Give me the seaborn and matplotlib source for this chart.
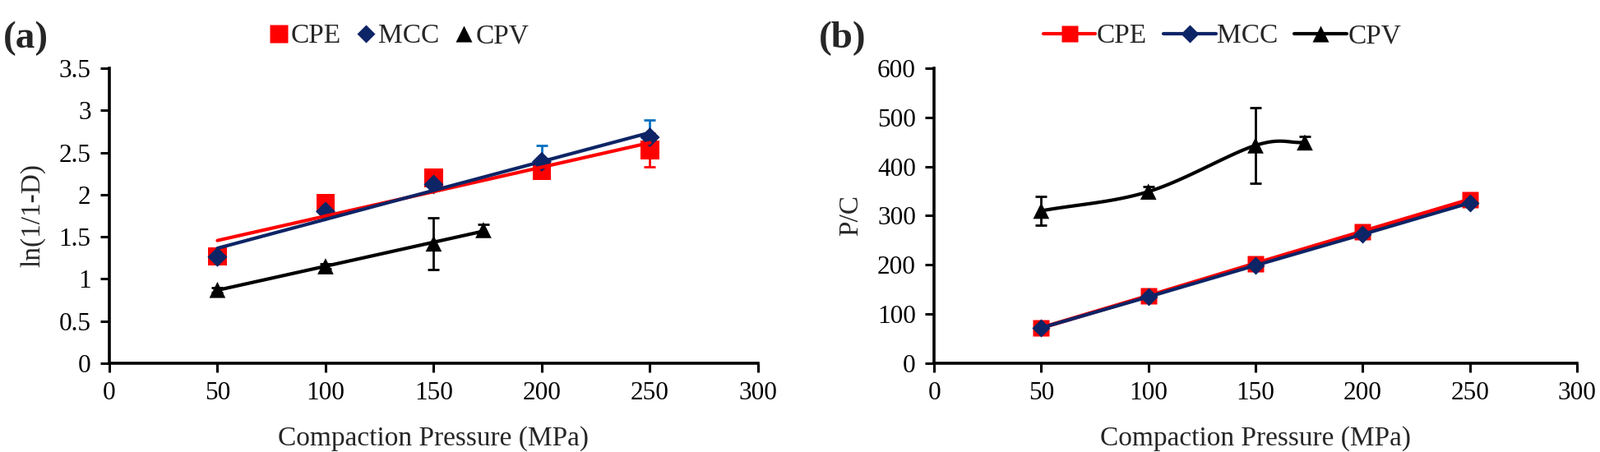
import numpy as np
import pandas as pd
import matplotlib
matplotlib.use("Agg")
import matplotlib.pyplot as plt
from matplotlib.lines import Line2D
import seaborn as sns

sns.set_theme(style="white")
plt.rcParams['font.family'] = ['Liberation Serif', 'DejaVu Serif']

# data
pressure = [50, 100, 150, 200, 250]
pressure_cpv = [50, 100, 150, 173]

# (a) Heckel plot ln(1/1-D)
heckel_cpe = [1.27, 1.90, 2.20, 2.28, 2.53]
heckel_cpe_err = [0.02, 0.03, 0.03, 0.05, 0.20]
heckel_mcc = [1.26, 1.80, 2.12, 2.39, 2.68]
heckel_mcc_err = [0.02, 0.02, 0.02, 0.19, 0.21]
heckel_cpv = [0.87, 1.15, 1.42, 1.58]
heckel_cpv_err = [0.03, 0.03, 0.31, 0.07]

# (b) Kawakita plot P/C
pc_cpe = [72, 137, 203, 268, 333]
pc_mcc = [72, 135, 199, 262, 326]
pc_cpv = [310, 349, 443, 449]
pc_cpv_err = [30, 11, 77, 13]

RED = "#FF0000"
NAVY = "#0D2466"
ERRBLUE = "#0070C0"
BLACK = "#000000"

TICK_FS = 22.5
LABEL_FS = 24


def smooth(x, y, n=40):
    # catmull-rom curve through the points, like Excel's "smoothed line"
    x = np.asarray(x, float)
    y = np.asarray(y, float)
    px = np.r_[2 * x[0] - x[1], x, 2 * x[-1] - x[-2]]
    py = np.r_[2 * y[0] - y[1], y, 2 * y[-1] - y[-2]]
    xs, ys = [], []
    t = np.linspace(0, 1, n)
    for i in range(1, len(px) - 2):
        for p, out in ((px, xs), (py, ys)):
            p0, p1, p2, p3 = p[i - 1], p[i], p[i + 1], p[i + 2]
            out.extend(0.5 * (2 * p1 + (-p0 + p2) * t
                              + (2 * p0 - 5 * p1 + 4 * p2 - p3) * t ** 2
                              + (-p0 + 3 * p1 - 3 * p2 + p3) * t ** 3))
    return xs, ys


def style_axes(ax, ymax, ystep, ylabel):
    ax.set_xlim(0, 300)
    ax.set_ylim(0, ymax)
    ax.set_xticks(np.arange(0, 301, 50))
    ax.set_yticks(np.arange(0, ymax + ystep / 2, ystep))
    ax.set_yticklabels([f"{v:g}" for v in np.arange(0, ymax + ystep / 2, ystep)])
    for s in ["top", "right"]:
        ax.spines[s].set_visible(False)
    for s in ["left", "bottom"]:
        ax.spines[s].set_linewidth(2.6)
        ax.spines[s].set_color("black")
    ax.tick_params(direction="out", length=8, width=2.2, colors="black",
                   labelsize=TICK_FS, pad=8, left=True, bottom=True)
    ax.set_xlabel("Compaction Pressure (MPa)", fontsize=LABEL_FS, labelpad=18)
    ax.set_ylabel(ylabel, fontsize=LABEL_FS, labelpad=12)
    ax.grid(False)


fig = plt.figure(figsize=(19.46, 5.5), dpi=100)
ax1 = fig.add_axes([0.0683, 0.1964, 0.4055, 0.6527])
ax2 = fig.add_axes([0.5838, 0.1964, 0.4018, 0.6527])

# ---- panel (a)
dfa = pd.DataFrame({"P": pressure, "CPE": heckel_cpe, "MCC": heckel_mcc})
dfv = pd.DataFrame({"P": pressure_cpv, "CPV": heckel_cpv})

ax1.errorbar(pressure, heckel_cpe, yerr=heckel_cpe_err, fmt="none",
             ecolor=RED, elinewidth=2, capsize=5, capthick=2, zorder=2)
ax1.errorbar(pressure, heckel_mcc, yerr=heckel_mcc_err, fmt="none",
             ecolor=ERRBLUE, elinewidth=2, capsize=5, capthick=2, zorder=2)
ax1.errorbar(pressure_cpv, heckel_cpv, yerr=heckel_cpv_err, fmt="none",
             ecolor=BLACK, elinewidth=2, capsize=5, capthick=2, zorder=2)

sns.scatterplot(data=dfa, x="P", y="CPE", marker="s", s=260, color=RED,
                edgecolor="none", ax=ax1, zorder=3)
sns.scatterplot(data=dfa, x="P", y="MCC", marker="D", s=150, color=NAVY,
                edgecolor="none", ax=ax1, zorder=4)
sns.scatterplot(data=dfv, x="P", y="CPV", marker="^", s=200, color=BLACK,
                edgecolor="none", ax=ax1, zorder=4)

# linear trend lines
sns.regplot(data=dfa, x="P", y="CPE", scatter=False, ci=None, truncate=True,
            line_kws={"color": RED, "lw": 3, "zorder": 5}, ax=ax1)
sns.regplot(data=dfa, x="P", y="MCC", scatter=False, ci=None, truncate=True,
            line_kws={"color": NAVY, "lw": 3, "zorder": 5}, ax=ax1)
sns.regplot(data=dfv, x="P", y="CPV", scatter=False, ci=None, truncate=True,
            line_kws={"color": BLACK, "lw": 3, "zorder": 5}, ax=ax1)

style_axes(ax1, 3.5, 0.5, "ln(1/1-D)")

# ---- panel (b)
dfb = pd.DataFrame({"P": pressure, "CPE": pc_cpe, "MCC": pc_mcc})
dfbv = pd.DataFrame({"P": pressure_cpv, "CPV": pc_cpv})

ax2.errorbar(pressure_cpv, pc_cpv, yerr=pc_cpv_err, fmt="none",
             ecolor=BLACK, elinewidth=2, capsize=5, capthick=2, zorder=2)
sns.lineplot(data=dfb, x="P", y="CPE", color=RED, lw=3.5, marker="s",
             markersize=15, markeredgecolor="none", ax=ax2, zorder=3)
sns.lineplot(data=dfb, x="P", y="MCC", color=NAVY, lw=3, marker="D",
             markersize=11, markeredgecolor="none", ax=ax2, zorder=4)
sx, sy = smooth(pressure_cpv, pc_cpv)
ax2.plot(sx, sy, color=BLACK, lw=3, zorder=3)
sns.scatterplot(data=dfbv, x="P", y="CPV", marker="^", s=200, color=BLACK,
                edgecolor="none", ax=ax2, zorder=4)

style_axes(ax2, 600, 100, "P/C")

# ---- legends
leg_a = [Line2D([], [], ls="none", marker="s", ms=16, color=RED, mec="none"),
         Line2D([], [], ls="none", marker="D", ms=11, color=NAVY, mec="none"),
         Line2D([], [], ls="none", marker="^", ms=14, color=BLACK, mec="none")]
fig.legend(leg_a, ["CPE", "MCC", "CPV"], loc="center", ncol=3,
           bbox_to_anchor=(0.249, 0.92), frameon=False, fontsize=LABEL_FS,
           handletextpad=0.05, columnspacing=0.5, handlelength=0.8)

leg_b = [Line2D([], [], lw=3, marker="s", ms=15, color=RED, mec="none"),
         Line2D([], [], lw=3, marker="D", ms=11, color=NAVY, mec="none"),
         Line2D([], [], lw=3, marker="^", ms=14, color=BLACK, mec="none")]
fig.legend(leg_b, ["CPE", "MCC", "CPV"], loc="center", ncol=3,
           bbox_to_anchor=(0.764, 0.92), frameon=False, fontsize=LABEL_FS,
           handletextpad=0.05, columnspacing=0.6, handlelength=1.9)

fig.text(0.002, 0.915, "(a)", fontsize=34, fontweight="bold", va="center")
fig.text(0.512, 0.915, "(b)", fontsize=34, fontweight="bold", va="center")

fig.savefig("out.png", dpi=100, facecolor="white")
